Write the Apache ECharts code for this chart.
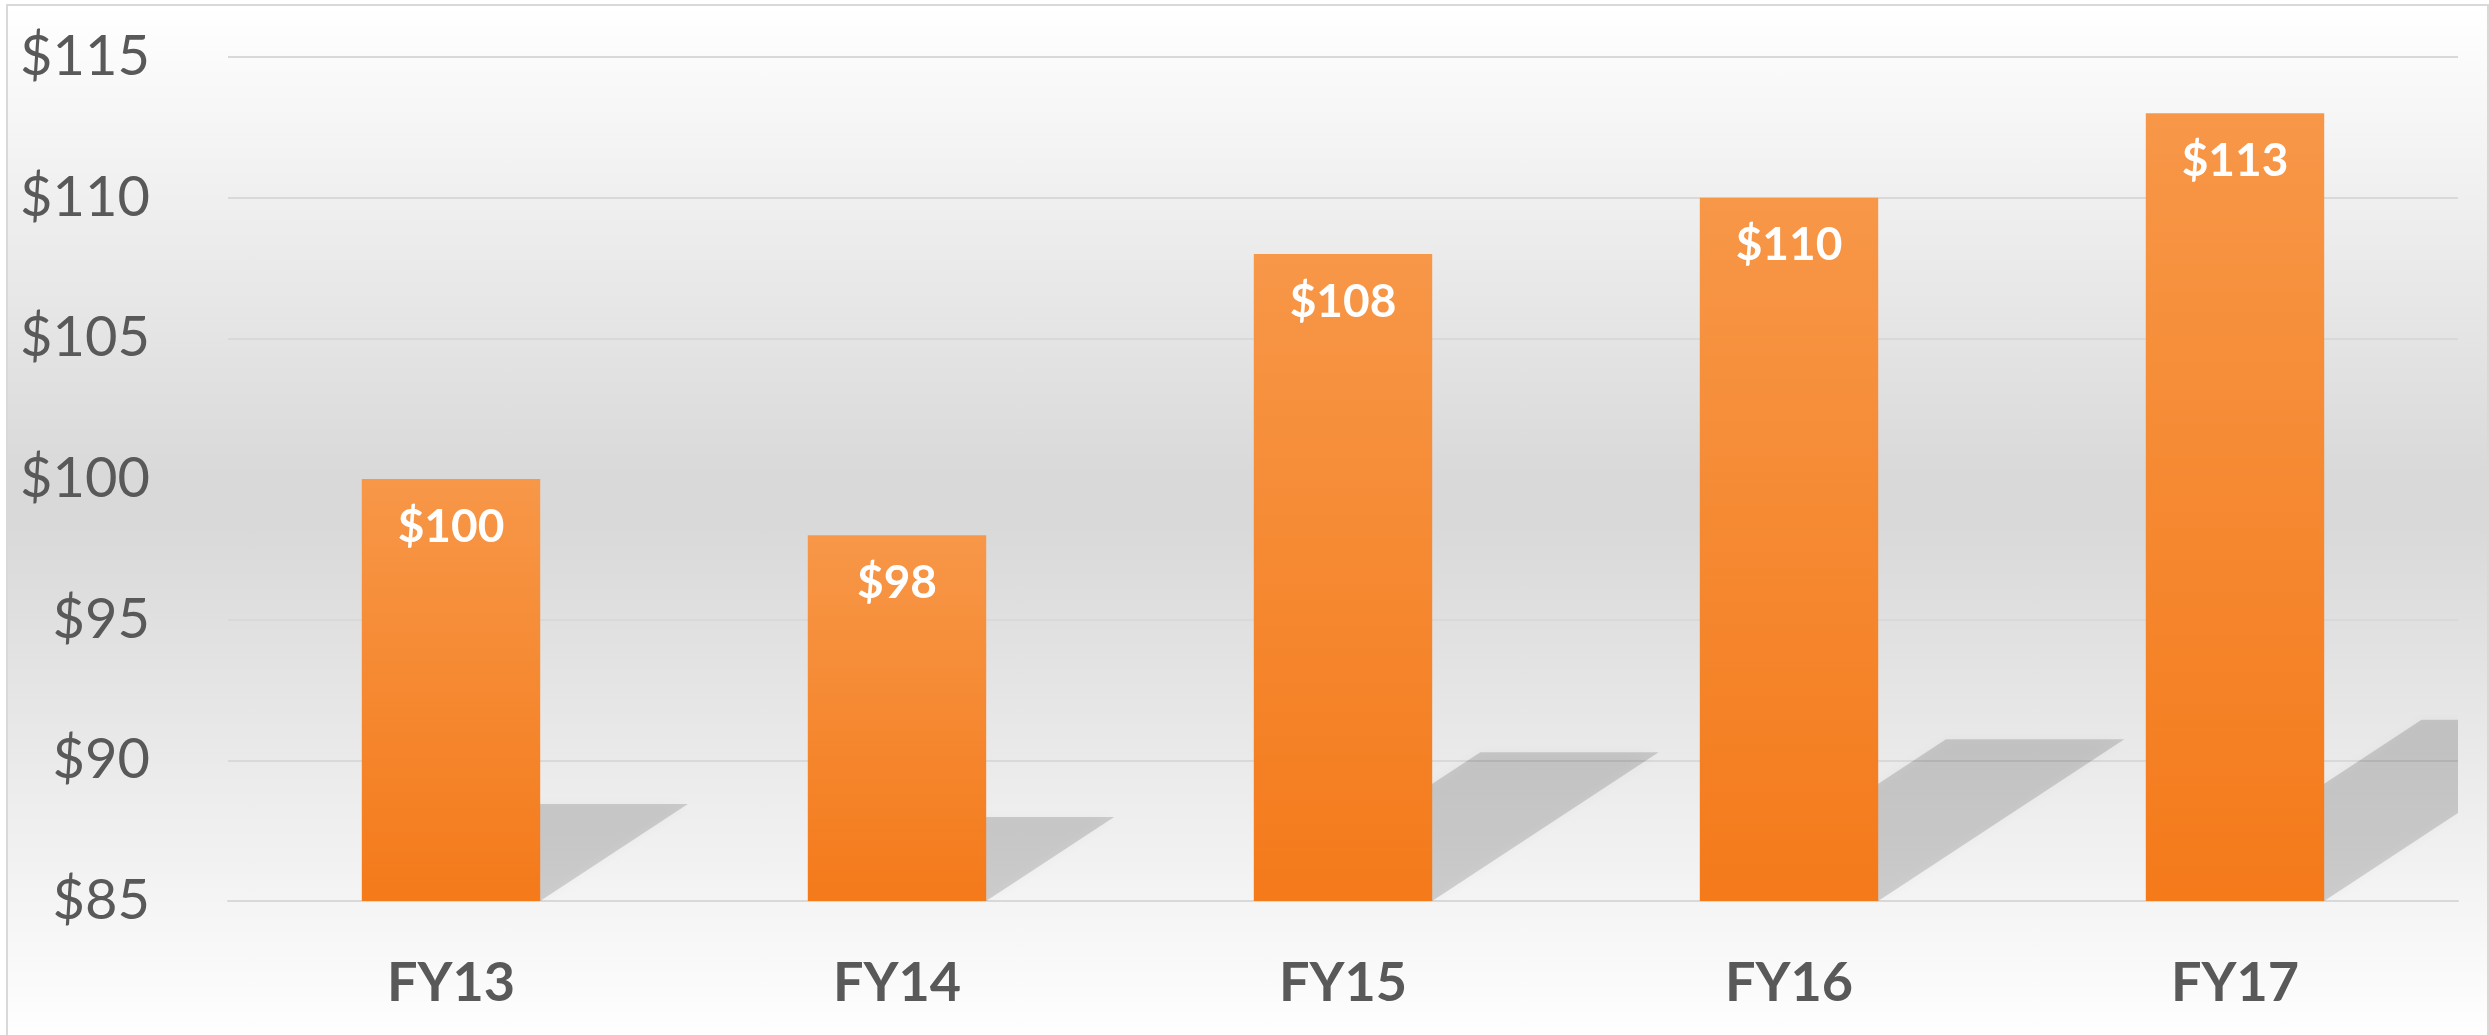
<!DOCTYPE html>
<html>
<head>
<meta charset="utf-8">
<script src="https://cdn.jsdelivr.net/npm/echarts@6/dist/echarts.min.js"></script>
<style>
  html, body { margin: 0; padding: 0; background: #fff; overflow: hidden; }
  .frame {
    position: absolute; left: 6px; top: 4px; width: 2479px; height: 1040px;
    border: 2px solid #d9d9d9;
    background: linear-gradient(to bottom, #ffffff 0%, #d9d9d9 45%, #d9d9d9 50%, #ffffff 100%);
  }
  #chart { position: absolute; left: 0; top: 0; width: 2489px; height: 1035px; }
</style>
</head>
<body>
<div class="frame"></div>
<div id="chart"></div>
<script>
// fiscal years and values (dollars)
const years = ['FY13', 'FY14', 'FY15', 'FY16', 'FY17'];
const values = [100, 98, 108, 110, 113];
const yMin = 85, yMax = 115, yStep = 5;

const chart = echarts.init(document.getElementById('chart'));

// perspective shadow cast to the right of each bar
const renderShadow = (params, api) => {
  const idx = api.value(0);
  const v = api.value(1);
  const top = api.coord([idx, v]);
  const base = api.coord([idx, yMin]);
  const bw = api.size([1, 0])[0] * 0.4;
  const h = base[1] - top[1];
  const dx = h * 0.35, dy = h * 0.23;
  const l = top[0] - bw / 2, r = top[0] + bw / 2, b = base[1];
  return {
    type: 'polygon',
    shape: { points: [[l, b], [r, b], [r + dx, b - dy], [l + dx, b - dy]] },
    style: { fill: 'rgba(0,0,0,0.15)', shadowBlur: 12, shadowColor: 'rgba(0,0,0,0.18)' }
  };
};

const option = {
  animation: false,
  grid: { left: 228, right: 31, top: 57, bottom: 134, containLabel: false },
  xAxis: {
    type: 'category',
    data: years,
    axisTick: { show: false },
    axisLine: { show: true, lineStyle: { color: '#d9d9d9', width: 2 } },
    axisLabel: {
      color: '#595959', fontSize: 54, fontWeight: 'bold',
      fontFamily: 'Lato', margin: 56
    }
  },
  yAxis: {
    type: 'value',
    min: yMin, max: yMax, interval: yStep,
    axisLine: { show: false },
    axisTick: { show: false },
    splitLine: { lineStyle: { color: '#d9d9d9', width: 2 } },
    axisLabel: {
      color: '#595959', fontSize: 56, fontFamily: 'Lato', margin: 78,
      formatter: (val) => '$' + val
    }
  },
  series: [
    {
      type: 'custom',
      clip: true,
      z: 1,
      renderItem: renderShadow,
      encode: { x: 0, y: 1 },
      data: values.map((v, i) => [i, v])
    },
    {
      type: 'bar',
      z: 3,
      barWidth: '40%',
      data: values,
      itemStyle: {
        color: new echarts.graphic.LinearGradient(0, 0, 0, 1, [
          { offset: 0, color: '#f79748' },
          { offset: 1, color: '#f47a1a' }
        ])
      },
      label: {
        show: true,
        position: 'insideTop',
        distance: 25,
        color: '#ffffff',
        fontSize: 46,
        fontWeight: 'bold',
        fontFamily: 'Lato',
        formatter: (p) => '$' + p.value
      }
    }
  ]
};

chart.setOption(option);
window.addEventListener('resize', () => chart.resize());
</script>
</body>
</html>
